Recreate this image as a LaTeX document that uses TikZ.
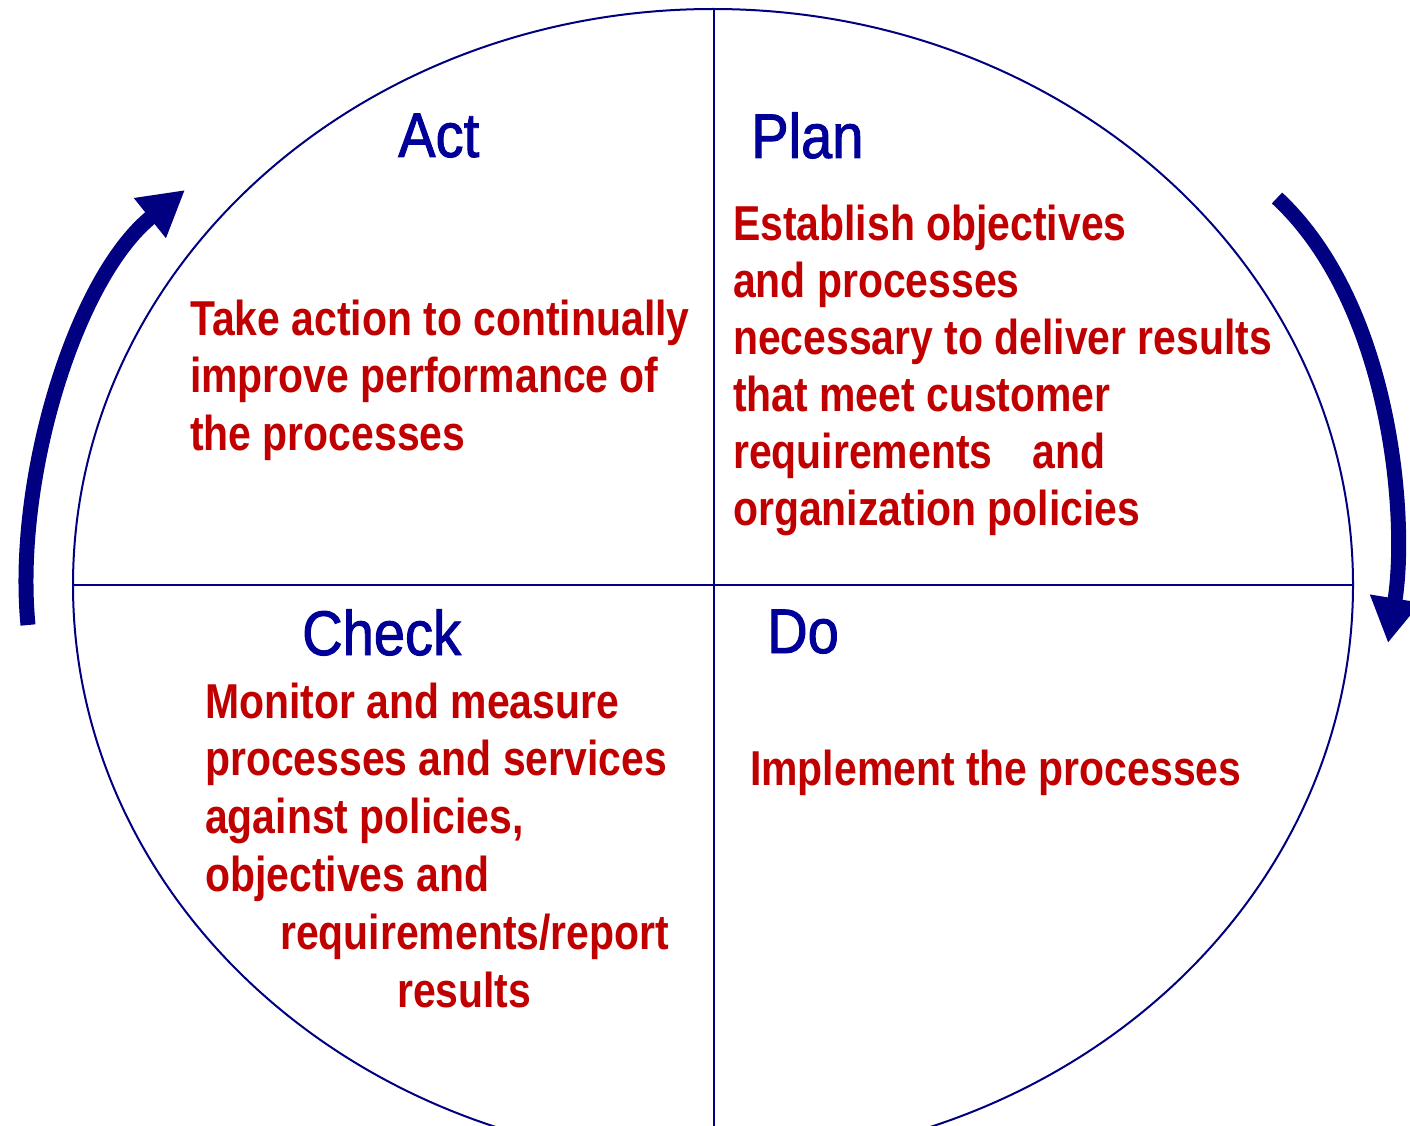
\documentclass[tikz,border=0pt]{standalone}
\usepackage{fontspec}
\setmainfont{Liberation Sans}
\newfontfamily\titlefont[FakeStretch=0.89,FakeBold=1.5]{Liberation Sans}
\newfontfamily\redfont[FakeStretch=0.835]{Liberation Sans}
\usetikzlibrary{arrows.meta}
\definecolor{navyline}{RGB}{0,0,128}
\definecolor{titleblue}{RGB}{0,0,153}
\definecolor{textred}{RGB}{192,0,0}
\tikzset{
  title/.style={inner sep=0pt, anchor=base west, text=titleblue, font=\titlefont\fontsize{63}{63}\selectfont},
  body/.style={inner sep=0pt, anchor=base west, text=textred, font=\redfont\bfseries\fontsize{49}{57.5}\selectfont},
  divider/.style={draw=navyline, line width=2.4pt},
  cyclearrow/.style={draw=navyline, line width=15pt, -{Triangle[length=45pt,width=48pt]}}
}
\begin{document}
\begin{tikzpicture}[x=1pt,y=-1pt]
\useasboundingbox (0,0) rectangle (1410,1126);
\clip (0,0) rectangle (1410,1126);
\fill[white] (0,0) rectangle (1410,1126);
% circle and quadrants
\draw[navyline, line width=2pt] (713,585) ellipse [x radius=640, y radius=576];
\coordinate (vtop) at (714,9);
\coordinate (vbot) at (714,1130);
\coordinate (hl) at (73,585);
\coordinate (hr) at (1353,585);
\draw[divider] (vtop) -- (vbot);
\draw[divider] (hl) -- (hr);
% arrows
\coordinate (la0) at (28,625);
\coordinate (la1) at (185,190);
\draw[cyclearrow] (la0) .. controls (14,480) and (75,278) .. (la1);
\coordinate (ra0) at (1277,198);
\coordinate (ra1) at (1388,643);
\draw[cyclearrow] (ra0) .. controls (1392,305) and (1408,520) .. (ra1);
% titles
\node[title] (act) at (398,157) {Act};
\node[title] (plan) at (751,158) {Plan};
\node[title] (check) at (302,655) {Check};
\node[title] (do) at (767,653) {Do};
% bodies
\node[body] (acttxt) at (190,335) {\vtop{\baselineskip=57.5pt
  \hbox{Take action to continually}
  \hbox{improve performance of}
  \hbox{the processes}}};
\node[body] (plantxt) at (733,240) {\vtop{\baselineskip=57pt
  \hbox{Establish objectives}
  \hbox{and processes}
  \hbox{necessary to deliver results}
  \hbox{that meet customer}
  \hbox{requirements\kern40pt and}
  \hbox{organization policies}}};
\node[body] (checktxt) at (205,718) {\vtop{\baselineskip=57.8pt
  \hbox{Monitor and measure}
  \hbox{processes and services}
  \hbox{against policies,}
  \hbox{objectives and}
  \hbox{\kern75pt requirements/report}
  \hbox{\kern192pt results}}};
\node[body] (dotxt) at (750,785) {Implement the processes};
\end{tikzpicture}
\end{document}
